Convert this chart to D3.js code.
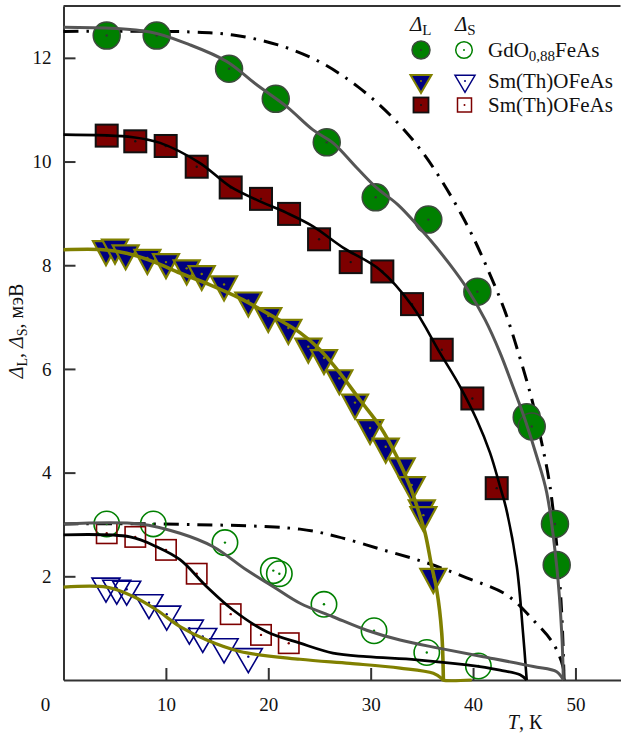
<!DOCTYPE html>
<html>
<head>
<meta charset="utf-8">
<script src="https://cdn.jsdelivr.net/npm/d3@7"></script>
<style>
  body { margin: 0; background: #fff; }
  svg text { font-family: "Liberation Serif", "Times New Roman", Times, serif; }
</style>
</head>
<body>
<div id="chart"></div>
<script>
const WIDTH = 621;
const HEIGHT = 733;
const FONT = "'Liberation Serif', 'Times New Roman', Times, serif";

// точки [T, Δ]
const gdL = [[4.22,12.43],[9.1,12.43],[16.17,11.79],[20.73,11.21],[25.71,10.37],[30.49,9.31],
  [35.63,8.88],[40.42,7.49],[45.24,5.07],[45.73,4.89],[48.0,3.01],[48.17,2.22]];
const gdS = [[4.22,3.01],[8.77,3.01],[15.77,2.65],[20.49,2.11],[21.08,2.05],[25.44,1.46],
  [30.33,0.95],[35.48,0.53],[40.52,0.27]];
const smTriL = [[4.15,8.31],[5.03,8.34],[6.07,8.23],[8.19,8.14],[10.01,8.06],[12.03,7.94],
  [13.5,7.83],[15.68,7.63],[18.05,7.32],[20.0,7.02],[21.96,6.79],[23.91,6.43],[25.44,6.21],
  [26.94,5.82],[28.47,5.35],[29.94,4.86],[31.47,4.5],[33.03,4.12],[34.01,3.76],[34.99,3.31],
  [35.15,3.18],[36.12,1.99]];
const smTriS = [[4.15,1.81],[5.2,1.77],[6.17,1.75],[8.35,1.49],[10.08,1.27],[12.29,1.0],
  [13.6,0.84],[15.68,0.64],[18.05,0.45]];
const smSqL = [[4.22,10.5],[7.01,10.39],[9.98,10.3],[13.01,9.9],[16.33,9.5],[19.29,9.28],
  [22.03,8.99],[24.96,8.5],[28.05,8.06],[31.14,7.88],[34.04,7.25],[36.94,6.37],[39.93,5.43],
  [42.31,3.7]];
const smSqS = [[4.22,2.83],[7.01,2.76],[10.01,2.51],[13.01,2.05],[16.33,1.27],[19.29,0.87],
  [22.0,0.71]];

// кривые
const gdLFit = [[0,12.59],[8.45,12.5],[12.36,12.25],[15.94,11.93],[18.87,11.48],[21.8,11.06],
  [24.37,10.61],[26.32,10.36],[28.64,9.88],[30.59,9.49],[32.7,9.16],[35.8,8.49],[37.75,8.01],
  [39.38,7.56],[41.17,6.95],[42.64,6.31],[43.91,5.65],[45.08,5.02],[46.22,4.31],[47.2,3.61],
  [48.17,2.19],[48.66,0.91],[48.82,0]];
const gdLBcs = [[0,12.51],[12.36,12.5],[16.56,12.44],[20.95,12.25],[25.05,11.92],[28.77,11.44],
  [32.09,10.86],[35.02,10.19],[37.43,9.47],[39.61,8.7],[41.46,7.91],[43.12,7.11],[44.49,6.27],
  [45.73,5.42],[46.71,4.57],[47.52,3.73],[48.3,2.32],[48.69,1.16],[48.89,0]];
const sqLFit = [[0,10.52],[6.79,10.47],[9.43,10.36],[13.33,9.97],[16.26,9.52],[18.87,9.26],
  [21.8,9.01],[24.37,8.75],[27.3,8.34],[30.92,7.91],[34.05,7.22],[36.77,6.31],[38.73,5.66],
  [40.36,5.02],[41.66,4.38],[42.64,3.73],[43.22,3.32],[44.27,2.19],[44.88,0.91],[45.24,0]];
const triLFit = [[0,8.3],[3.89,8.3],[6.17,8.23],[8.77,8.07],[11.38,7.85],[14.31,7.62],
  [17.24,7.36],[19.85,7.08],[23.1,6.7],[25.05,6.37],[27.0,5.92],[28.96,5.4],[30.92,4.89],
  [32.55,4.31],[33.85,3.73],[34.63,3.28],[35.31,2.84],[35.96,2.19],[36.45,1.74],[36.94,0.91],
  [37.1,0]];
const gdSFit = [[0,3.01],[7.47,3.01],[11.38,2.83],[14.63,2.57],[17.89,2.12],[20.49,1.8],
  [23.1,1.48],[26.32,1.22],[29.61,0.96],[32.87,0.77],[36.77,0.61],[41.0,0.45],[45.89,0.26],
  [48.17,0.16],[48.82,0]];
const gdSBcs = [[0,3.01],[8.74,3.01],[23.1,2.91],[26.81,2.76],[31.2,2.51],[35.48,2.26],
  [39.38,1.97],[43.29,1.64],[45.86,1.16],[47.81,0.71],[48.79,0.25],[48.89,0]];
const sqSFit = [[0,2.8],[6.5,2.76],[9.1,2.57],[11.38,2.32],[13.99,1.8],[16.56,1.35],
  [19.85,0.93],[23.1,0.71],[26.32,0.52],[29.61,0.45],[34.5,0.39],[39.38,0.29],[42.64,0.19],
  [44.59,0.1],[45.24,0]];
const triSFit = [[0,1.79],[4.22,1.79],[6.82,1.61],[9.1,1.35],[11.38,1.03],[13.99,0.77],
  [17.24,0.55],[23.1,0.4],[27.98,0.32],[32.87,0.23],[36.12,0.13],[36.94,0.03],[37.07,0],
  [39.87,0]];

const xTicks = [10, 20, 30, 40, 50];
const yTicks = [2, 4, 6, 8, 10, 12];

const GREEN = "#008000", MAROON = "#7d0000", NAVY = "#000080", OLIVE = "#808000";
const GRAY = "#555555", AXIS = "#333333";

let svg = d3.select("#chart").append("svg")
  .attr("width", WIDTH)
  .attr("height", HEIGHT)
  .attr("font-family", FONT)

let x = d3.scaleLinear().domain([0, 54.4]).range([63.5, 620.5])
let y = d3.scaleLinear().domain([0, 13.0]).range([680, 6])

// треугольник вершиной вниз, центр в центроиде
let triPath = (w, h) => `M${-w/2},${-h/3}L${w/2},${-h/3}L0,${2*h/3}Z`

// оси
let gx = svg.append("g")
  .attr("transform", `translate(0, ${y(0)})`)
  .call(d3.axisBottom(x).tickValues(xTicks).tickSizeInner(-12).tickSizeOuter(0).tickPadding(18))
let gy = svg.append("g")
  .attr("transform", `translate(${x(0)}, 0)`)
  .call(d3.axisLeft(y).tickValues(yTicks).tickSizeInner(-12).tickSizeOuter(0).tickPadding(12))
;[gx, gy].forEach(g => {
  g.attr("font-family", FONT)
  g.selectAll("path, line").attr("stroke", AXIS).attr("stroke-width", 2)
  g.selectAll("text").attr("font-size", 19).attr("fill", "#111")
})
gx.selectAll("text").attr("dy", "0.71em")
svg.append("text")
  .attr("x", x(0) - 18).attr("y", y(0) + 18).attr("dy", "0.71em")
  .attr("text-anchor", "middle").attr("font-size", 19).attr("fill", "#111")
  .text("0")
svg.append("line")
  .attr("x1", x(0)).attr("x2", x(54.4)).attr("y1", y(13)).attr("y2", y(13))
  .attr("stroke", AXIS).attr("stroke-width", 2)

let line = d3.line()
  .x(d => x(d[0]))
  .y(d => y(d[1]))
  .curve(d3.curveCatmullRom.alpha(0.5))

// штрих-пунктир (под маркерами)
;[gdLBcs, gdSBcs].forEach(data => {
  svg.append("path").datum(data)
    .attr("d", line)
    .attr("fill", "none")
    .attr("stroke", "#000")
    .attr("stroke-width", 3)
    .attr("stroke-dasharray", "15,8,2.5,8")
})

let dot = (sel, color) => {
  sel.append("circle").attr("r", 1.2).attr("fill", color)
}

// маркеры
let addPoints = (data, draw, dotColor) => {
  let g = svg.append("g").selectAll("g")
    .data(data).enter().append("g")
    .attr("transform", d => `translate(${x(d[0])}, ${y(d[1])})`)
  draw(g)
  dot(g, dotColor)
}

addPoints(gdS, g => g.append("circle").attr("r", 12.7)
  .attr("fill", "none").attr("stroke", GREEN).attr("stroke-width", 1.6), GREEN)
addPoints(smSqS, g => g.append("rect").attr("x", -10.2).attr("y", -10.2).attr("width", 20.4).attr("height", 20.4)
  .attr("fill", "none").attr("stroke", MAROON).attr("stroke-width", 1.6), MAROON)
addPoints(smTriS, g => g.append("path").attr("d", triPath(28, 24))
  .attr("fill", "none").attr("stroke", NAVY).attr("stroke-width", 1.6), NAVY)

addPoints(gdL, g => g.append("circle").attr("r", 13.5)
  .attr("fill", GREEN).attr("stroke", "#3c4a3c").attr("stroke-width", 1.5), "#333")
addPoints(smSqL, g => g.append("rect").attr("x", -11).attr("y", -11).attr("width", 22).attr("height", 22)
  .attr("fill", MAROON).attr("stroke", "#111").attr("stroke-width", 2), "#111")
addPoints(smTriL, g => g.append("path").attr("d", triPath(26, 24))
  .attr("fill", NAVY).attr("stroke", OLIVE).attr("stroke-width", 2.2), OLIVE)

// сплошные кривые (поверх маркеров)
let fits = [
  [gdLFit, GRAY, 3],
  [sqLFit, "#000", 2.6],
  [triLFit, OLIVE, 3.6],
  [gdSFit, GRAY, 3],
  [sqSFit, "#000", 2.8],
  [triSFit, OLIVE, 3.2]
]
fits.forEach(([data, color, w]) => {
  svg.append("path").datum(data)
    .attr("d", line)
    .attr("fill", "none")
    .attr("stroke", color)
    .attr("stroke-width", w)
})

// подписи осей
let yl = svg.append("text")
  .attr("transform", `translate(23, 331) rotate(-90)`)
  .attr("text-anchor", "middle")
  .attr("font-size", 20)
  .attr("fill", "#111")
yl.append("tspan").attr("font-style", "italic").text("Δ")
yl.append("tspan").attr("font-size", 14).attr("dy", 4).text("L")
yl.append("tspan").attr("dy", -4).text(", ")
yl.append("tspan").attr("font-style", "italic").text("Δ")
yl.append("tspan").attr("font-size", 14).attr("dy", 4).text("S")
yl.append("tspan").attr("dy", -4).text(", мэВ")

let xl = svg.append("text")
  .attr("x", 525).attr("y", 729)
  .attr("text-anchor", "middle")
  .attr("font-size", 20)
  .attr("fill", "#111")
xl.append("tspan").attr("font-style", "italic").text("T")
xl.append("tspan").text(", К")

// легенда
let leg = svg.append("g")
let head = (tx, sub) => {
  let t = leg.append("text").attr("x", tx).attr("y", 31).attr("font-size", 21).attr("fill", "#111")
  t.append("tspan").attr("font-style", "italic").text("Δ")
  t.append("tspan").attr("font-size", 15).attr("dy", 4).text(sub)
}
head(410, "L")
head(455, "S")

let row1 = leg.append("g").attr("transform", "translate(0, 50)")
row1.append("circle").attr("cx", 421).attr("r", 9).attr("fill", GREEN).attr("stroke", "#3c4a3c").attr("stroke-width", 1.5)
row1.append("circle").attr("cx", 421).attr("r", 1).attr("fill", "#333")
row1.append("circle").attr("cx", 464).attr("r", 8.3).attr("fill", "none").attr("stroke", GREEN).attr("stroke-width", 1.5)
row1.append("circle").attr("cx", 464).attr("r", 1).attr("fill", GREEN)
let t1 = row1.append("text").attr("x", 488).attr("y", 7).attr("font-size", 21).attr("fill", "#111")
t1.append("tspan").text("GdO")
t1.append("tspan").attr("font-size", 15).attr("dy", 4).text("0,88")
t1.append("tspan").attr("dy", -4).text("FeAs")

let row2 = leg.append("g").attr("transform", "translate(0, 81)")
row2.append("path").attr("transform", "translate(421, 0)").attr("d", triPath(21, 18))
  .attr("fill", NAVY).attr("stroke", OLIVE).attr("stroke-width", 2)
row2.append("circle").attr("cx", 421).attr("r", 1).attr("fill", OLIVE)
row2.append("path").attr("transform", "translate(465, 0)").attr("d", triPath(20, 17))
  .attr("fill", "none").attr("stroke", NAVY).attr("stroke-width", 1.5)
row2.append("circle").attr("cx", 465).attr("r", 1).attr("fill", NAVY)
row2.append("text").attr("x", 488).attr("y", 7).attr("font-size", 21).attr("fill", "#111").text("Sm(Th)OFeAs")

let row3 = leg.append("g").attr("transform", "translate(0, 105)")
row3.append("rect").attr("x", 413.5).attr("y", -7.5).attr("width", 15).attr("height", 15)
  .attr("fill", MAROON).attr("stroke", "#111").attr("stroke-width", 1.8)
row3.append("circle").attr("cx", 421).attr("r", 1).attr("fill", "#111")
row3.append("rect").attr("x", 457.5).attr("y", -7).attr("width", 14).attr("height", 14)
  .attr("fill", "none").attr("stroke", MAROON).attr("stroke-width", 1.5)
row3.append("circle").attr("cx", 464.5).attr("r", 1).attr("fill", MAROON)
row3.append("text").attr("x", 488).attr("y", 7).attr("font-size", 21).attr("fill", "#111").text("Sm(Th)OFeAs")
</script>
</body>
</html>
